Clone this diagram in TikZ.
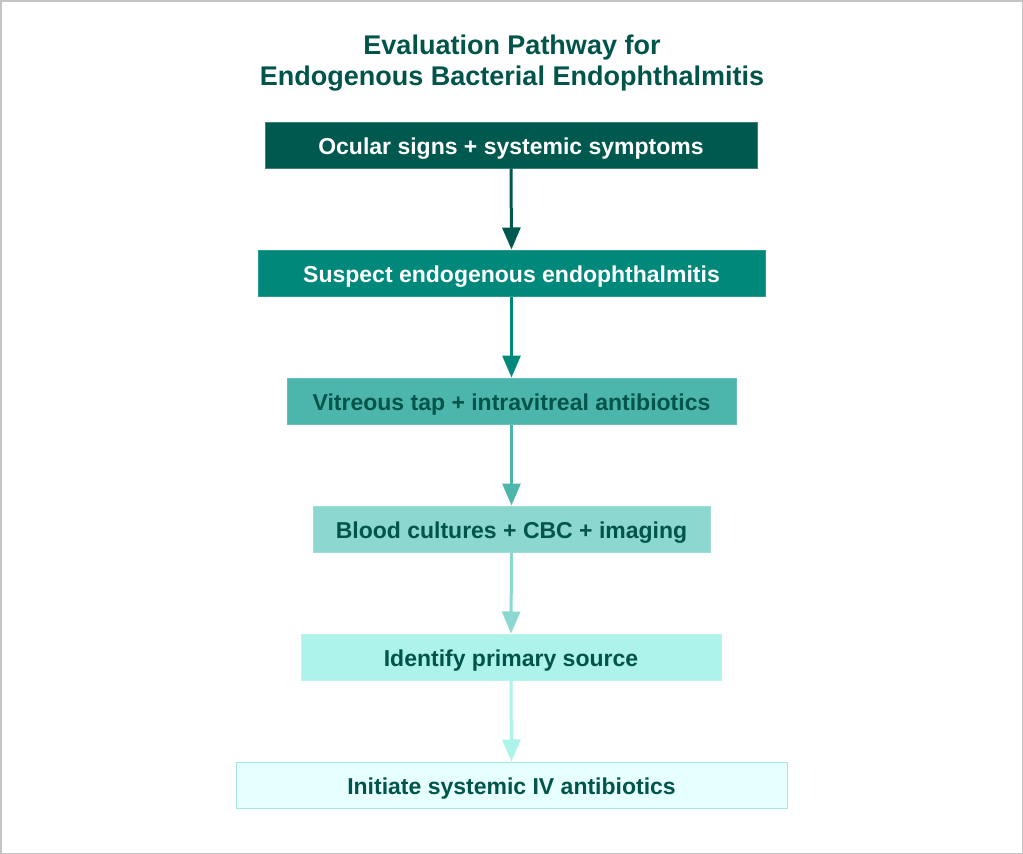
\documentclass[tikz,border=0pt]{standalone}
\usepackage{fontspec}
\setmainfont{Liberation Sans}
\usetikzlibrary{arrows.meta}
\definecolor{cA}{HTML}{00594F}
\definecolor{cB}{HTML}{00897B}
\definecolor{cC}{HTML}{4DB6AC}
\definecolor{cD}{HTML}{8CD8D1}
\definecolor{cE}{HTML}{ADF3EA}
\definecolor{cF}{HTML}{E6FFFF}
\definecolor{cFline}{HTML}{A6E6DE}
\definecolor{ink}{HTML}{00544A}
\definecolor{frame}{HTML}{C4C4C4}
\tikzset{
  stepbox/.style={rectangle, inner sep=0pt, text height=18pt, text depth=0pt,
    font=\fontsize{23}{27}\selectfont\bfseries, line width=1pt, minimum height=46pt},
  flow/.style={line width=3pt, -{Triangle[length=22pt,width=18pt]}},
}
\begin{document}
\begin{tikzpicture}[x=1pt,y=-1pt]
  \useasboundingbox (0,0) rectangle (1023,854);
  \draw[frame, line width=1.5pt] (0.75,0.75) rectangle (1022.25,853.25);

  \node[font=\fontsize{27}{31}\selectfont\bfseries, text=ink, align=center] (title) at (512,63)
    {Evaluation Pathway for\\Endogenous Bacterial Endophthalmitis};

  \node[stepbox, fill=cA, draw=cA!75!white, text=white, minimum width=492pt] (s1) at (511,145) {Ocular signs + systemic symptoms};
  \node[stepbox, fill=cB, draw=cB!85!white, text=white, minimum width=507pt] (s2) at (511.5,273) {Suspect endogenous endophthalmitis};
  \node[stepbox, fill=cC, draw=cC!85!white, text=ink, minimum width=449pt] (s3) at (511.5,401) {Vitreous tap + intravitreal antibiotics};
  \node[stepbox, fill=cD, draw=cD!85!white, text=ink, minimum width=397pt] (s4) at (511.5,529) {Blood cultures + CBC + imaging};
  \node[stepbox, fill=cE, draw=cE!85!white, text=ink, minimum width=420pt] (s5) at (511,657) {Identify primary source};
  \node[stepbox, fill=cF, draw=cFline, text=ink, minimum width=551pt] (s6) at (511.5,785) {Initiate systemic IV antibiotics};

  \draw[flow, cA] (s1.south) -- (s2.north);
  \draw[flow, cB] (s2.south) -- (s3.north);
  \draw[flow, cC] (s3.south) -- (s4.north);
  \draw[flow, cD] (s4.south) -- (s5.north);
  \draw[flow, cE] (s5.south) -- (s6.north);
\end{tikzpicture}
\end{document}
